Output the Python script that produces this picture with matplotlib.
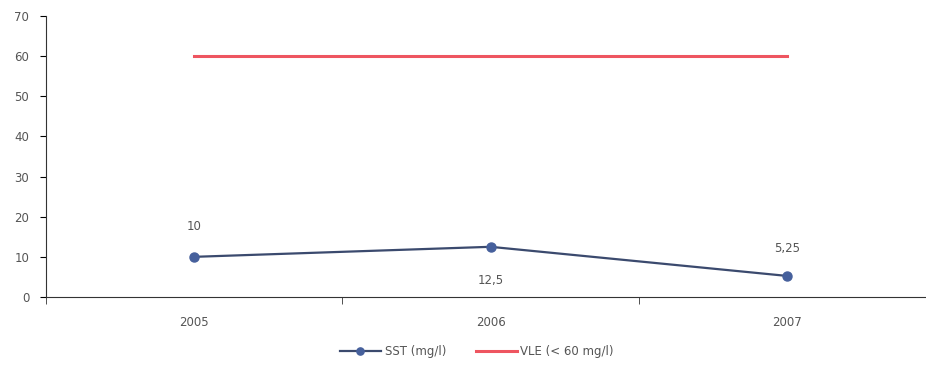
import matplotlib.pyplot as plt

# Data
YEARS = ["2005", "2006", "2007"]
SST = [10, 12.5, 5.25]
SST_LABELS = ["10", "12,5", "5,25"]
VLE = [60, 60, 60]

fig = plt.figure(figsize=(9.26, 3.68), dpi=100)
ax = fig.add_axes([0.0497, 0.193, 0.96, 0.7635])

x = list(range(len(YEARS)))
ax.plot(x, SST, color='#3b4a6e', linewidth=1.6, marker='o', markersize=6.5,
        markerfacecolor='#46609c', markeredgecolor='#46609c', label="SST (mg/l)", zorder=3)
ax.plot(x, VLE, color='#ee5560', linewidth=2.2, label="VLE (< 60 mg/l)")

# data labels: above, below, above
offsets = [(0, 22), (0, -24), (0, 20)]
for xi, yi, lab, off in zip(x, SST, SST_LABELS, offsets):
    ax.annotate(lab, (xi, yi), xytext=off, textcoords='offset points',
                ha='center', va='center', fontsize=8.5, color='#555555')

ax.set_xlim(-0.5, 2.5)
ax.set_ylim(0, 70)
ax.set_yticks(range(0, 71, 10))
ax.set_xticks(x)
ax.set_xticklabels(YEARS)
ax.set_xticks([-0.5, 0.5, 1.5, 2.5], minor=True)
ax.tick_params(axis='x', which='major', length=0, pad=14, labelsize=8.5, labelcolor='#555555')
ax.tick_params(axis='x', which='minor', length=5, direction='out', color='#333333')
ax.tick_params(axis='y', length=4, direction='out', labelsize=8.5, labelcolor='#555555', pad=8)

ax.spines['top'].set_visible(False)
ax.spines['right'].set_visible(False)
ax.spines['left'].set_color('#333333')
ax.spines['bottom'].set_color('#333333')

fig.legend(loc='center', bbox_to_anchor=(0.515, 0.045), ncol=2, frameon=False,
           fontsize=8.5, labelcolor='#555555', handlelength=3.5, columnspacing=2.5,
           handletextpad=0.3, markerscale=0.8)

plt.savefig("out.png", dpi=100)
